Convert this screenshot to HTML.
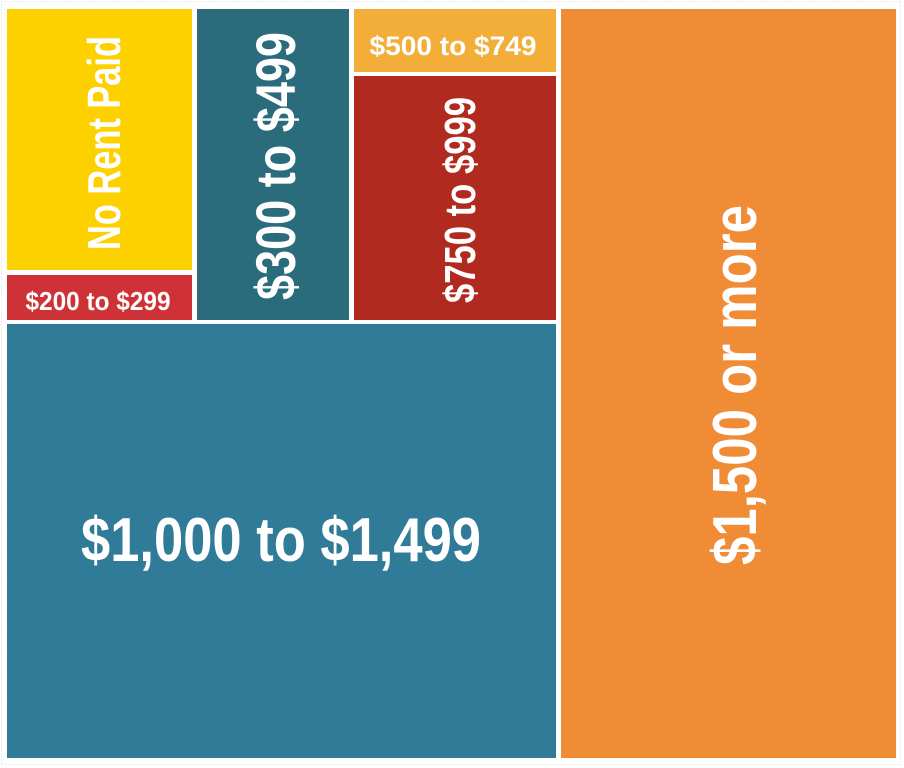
<!DOCTYPE html>
<html><head><style>
html,body{margin:0;padding:0;background:#fff;width:904px;height:768px;overflow:hidden}
text{font-family:"Liberation Sans Narrow","Liberation Sans",sans-serif;font-weight:bold;fill:#fff}
</style></head><body>
<svg width="904" height="768" viewBox="0 0 904 768" xmlns="http://www.w3.org/2000/svg">
<rect x="1.5" y="1.5" width="899" height="763" fill="none" stroke="#d8d8d8" stroke-dasharray="1,2"/>
<rect x="7" y="9" width="185" height="261" fill="#fdd000"/>
<rect x="7" y="275" width="185" height="45" fill="#cf3236"/>
<rect x="197" y="9" width="152" height="311" fill="#2a6b7c"/>
<rect x="354" y="9" width="202" height="63" fill="#f2ae39"/>
<rect x="354" y="76" width="202" height="244" fill="#b02a20"/>
<rect x="7" y="324" width="549" height="434" fill="#307b98"/>
<rect x="561" y="9" width="335" height="749" fill="#f08b36"/>

<text transform="translate(120,143) rotate(-90)" text-anchor="middle" font-size="46" textLength="214" lengthAdjust="spacingAndGlyphs">No Rent Paid</text>
<text transform="translate(295,166) rotate(-90)" text-anchor="middle" font-size="56" textLength="268" lengthAdjust="spacingAndGlyphs">$300 to $499</text>
<text transform="translate(475,200) rotate(-90)" text-anchor="middle" font-size="44" textLength="206" lengthAdjust="spacingAndGlyphs">$750 to $999</text>
<text x="453" y="55" text-anchor="middle" font-size="27" textLength="167" lengthAdjust="spacingAndGlyphs">$500 to $749</text>
<text x="98" y="310" text-anchor="middle" font-size="26" textLength="145" lengthAdjust="spacingAndGlyphs">$200 to $299</text>
<text x="281" y="561" text-anchor="middle" font-size="62" textLength="400" lengthAdjust="spacingAndGlyphs">$1,000 to $1,499</text>
<text transform="translate(756,385) rotate(-90)" text-anchor="middle" font-size="62" textLength="360" lengthAdjust="spacingAndGlyphs">$1,500 or more</text>
</svg>
</body></html>
